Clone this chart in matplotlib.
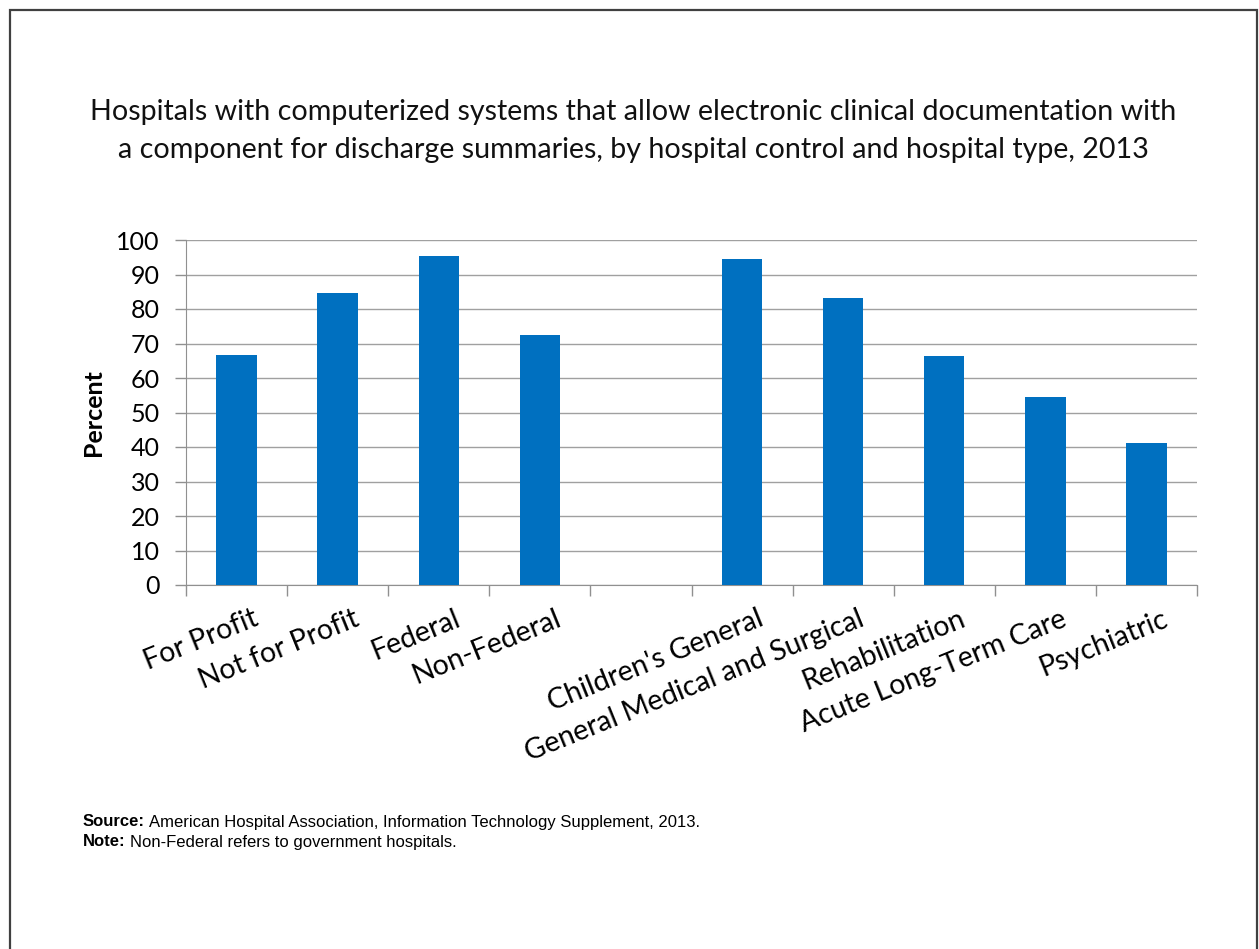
import matplotlib
matplotlib.use("Agg")
import matplotlib.pyplot as plt
from matplotlib.patches import Rectangle
import numpy as np

# Data
control_labels = ["For Profit", "Not for Profit", "Federal", "Non-Federal"]
control_values = [66.6, 84.7, 95.5, 72.4]
type_labels = ["Children's General", "General Medical and Surgical",
               "Rehabilitation", "Acute Long-Term Care", "Psychiatric"]
type_values = [94.5, 83.1, 66.3, 54.4, 41.3]
yticks = [0, 10, 20, 30, 40, 50, 60, 70, 80, 90, 100]

title = ("Hospitals with computerized systems that allow electronic clinical documentation with\n"
         "a component for discharge summaries, by hospital control and hospital type, 2013")
notes = [("Source:", "American Hospital Association, Information Technology Supplement, 2013."),
         ("Note:", "Non-Federal refers to government hospitals.")]

W, H = 1259, 949
fig = plt.figure(figsize=(W / 100, H / 100), dpi=100)

# outer frame
fig.patches.append(Rectangle((10 / W, -0.01), (1257 - 10) / W, 1 - 10 / H + 0.01,
                             transform=fig.transFigure, fill=False,
                             edgecolor="#404040", linewidth=1.6))

ax = fig.add_axes([186 / W, 1 - 585 / H, (1197 - 186) / W, (585 - 240) / H])

labels = control_labels + [""] + type_labels
n_ctrl = len(control_labels)
pos_ctrl = np.arange(n_ctrl)
pos_type = np.arange(len(type_labels)) + n_ctrl + 1
positions = np.concatenate([pos_ctrl, [n_ctrl], pos_type])

ax.bar(pos_ctrl, control_values, width=0.4, color="#0070C0", zorder=3)
ax.bar(pos_type, type_values, width=0.4, color="#0070C0", zorder=3)

ax.set_xlim(-0.5, len(labels) - 0.5)
ax.set_ylim(0, 100)
ax.set_yticks(yticks)
ax.set_yticklabels([str(v) for v in yticks], fontsize=18, family="Lato")
ax.yaxis.grid(True, color="#A0A0A0", linewidth=1.0, zorder=0)
ax.set_axisbelow(True)

for s in ["top", "right"]:
    ax.spines[s].set_visible(False)
ax.spines["left"].set_color("#909090")
ax.spines["bottom"].set_color("#909090")
ax.tick_params(axis="y", length=8, color="#909090", pad=11, width=1)

ax.set_xticks(positions)
ax.set_xticklabels(labels)
ax.tick_params(axis="x", which="major", length=0, labelbottom=False)
ax.set_xticks(np.arange(len(labels) + 1) - 0.5, minor=True)
ax.tick_params(axis="x", which="minor", length=8, color="#909090", width=1)

for p, lab in zip(positions, labels):
    if lab:
        ax.text(p + 0.15, -6, lab, rotation=22, rotation_mode="anchor",
                ha="right", va="top", fontsize=20.5, family="Lato",
                transform=ax.transData)

ax.set_ylabel("Percent", fontsize=18, fontweight="bold", family="Lato", labelpad=8)

fig.text(0.503, 1 - 131 / H, title, ha="center", va="center", fontsize=20.6,
         family="Lato", linespacing=1.6, color="#111111")

fig.canvas.draw()
renderer = fig.canvas.get_renderer()
for i, (bold, rest) in enumerate(notes):
    y = 1 - (822 + 20 * i) / H
    t = fig.text(83 / W, y, bold, fontsize=12, fontweight="bold",
                 family="Liberation Sans", va="center")
    bb = t.get_window_extent(renderer)
    fig.text((bb.x1 + 4) / W, y, rest, fontsize=12,
             family="Liberation Sans", va="center")

fig.savefig("out.png", dpi=100)
